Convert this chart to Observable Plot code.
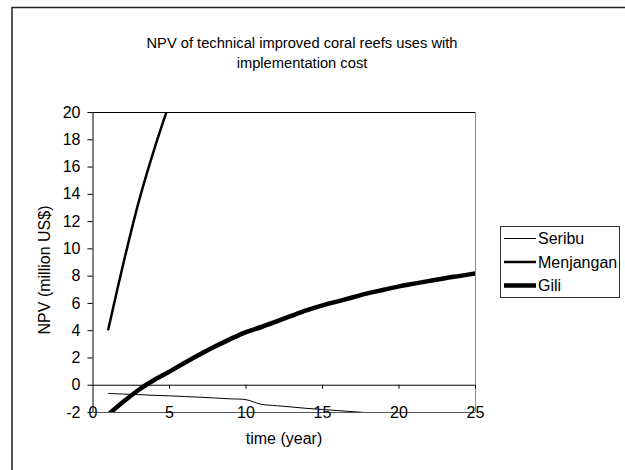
<!DOCTYPE html>
<html>
<head>
<meta charset="utf-8">
<script src="https://cdn.jsdelivr.net/npm/d3@7"></script>
<script src="https://cdn.jsdelivr.net/npm/@observablehq/plot@0.6"></script>
<style>
  html, body { margin: 0; padding: 0; background: #fff; }
  #chart { width: 625px; height: 470px; }
</style>
</head>
<body>
<div id="chart"></div>
<script>
const years = d3.range(1, 26);
const seribu = [-0.6, -0.65, -0.69, -0.74, -0.78, -0.83, -0.88, -0.94, -1.0, -1.06,
                -1.4, -1.5, -1.6, -1.7, -1.78, -1.86, -1.94, -2.02, -2.1, -2.18,
                -2.26, -2.33, -2.4, -2.47, -2.54];
const menjanganYears = [1, 2, 3, 4, 5];
const menjangan = [4.1, 9.0, 13.5, 17.3, 20.7];
const gili = [-2.15, -1.2, -0.33, 0.38, 1.0, 1.65, 2.27, 2.85, 3.4, 3.9,
              4.27, 4.68, 5.1, 5.5, 5.85, 6.15, 6.45, 6.75, 7.0, 7.25,
              7.45, 7.65, 7.85, 8.02, 8.2];
const seriesNames = ["Seribu", "Menjangan", "Gili"];
const seriesWidths = [1, 2.5, 4.5];
const xTicks = [0, 5, 10, 15, 20, 25];
const yTicks = d3.range(-2, 21, 2);
const title = ["NPV of technical improved coral reefs uses with", "implementation cost"];
const xLabel = "time (year)";
const yLabel = "NPV (million US$)";

const seribuData = years.map((t, i) => ({t, v: seribu[i]}));
const giliData = years.map((t, i) => ({t, v: gili[i]}));
const menjData = menjanganYears.map((t, i) => ({t, v: menjangan[i]}));

const font = "'Liberation Sans', Arial, sans-serif";

const chart = Plot.plot({
  width: 625,
  height: 470,
  marginLeft: 92.5,
  marginRight: 150,
  marginTop: 112,
  marginBottom: 58,
  style: {fontFamily: font, fontSize: "16px", background: "#fff", color: "#000", overflow: "visible"},
  x: {domain: [0, 25]},
  y: {domain: [-2, 20]},
  marks: [
    Plot.ruleY([-2], {stroke: "#555", strokeWidth: 1}),
    Plot.ruleY([20], {stroke: "#000", strokeWidth: 1}),
    Plot.ruleX([25], {stroke: "#888", strokeWidth: 1}),
    Plot.ruleY([0], {stroke: "#000", strokeWidth: 1}),
    Plot.ruleX([0], {stroke: "#000", strokeWidth: 1}),
    Plot.ruleX(xTicks.slice(1), {x: d => d, y1: 0, y2: 0, insetBottom: -4, stroke: "#000"}),
    Plot.axisY({ticks: yTicks, tickSize: 5, tickPadding: 7.5, label: null, fontSize: 16, tickFormat: d => d}),
    Plot.axisX({ticks: xTicks, tickSize: 0, tickPadding: 0, dy: -6, label: null, fontSize: 16, tickFormat: d => d}),
    Plot.line(seribuData, {x: "t", y: "v", stroke: "#000", strokeWidth: seriesWidths[0], curve: "catmull-rom", clip: true}),
    Plot.line(menjData, {x: "t", y: "v", stroke: "#000", strokeWidth: seriesWidths[1], curve: "catmull-rom", clip: true}),
    Plot.line(giliData, {x: "t", y: "v", stroke: "#000", strokeWidth: seriesWidths[2], curve: "catmull-rom", clip: true})
  ]
});

document.getElementById("chart").appendChild(chart);

const svg = d3.select(chart);
// outer chart border (left + top)
svg.append("path")
  .attr("d", "M12,470 L12,7.5 L625,7.5")
  .attr("fill", "none").attr("stroke", "#222").attr("stroke-width", 1.5);

// title
svg.append("g").selectAll("text").data(title).join("text")
  .attr("x", 302).attr("y", (d, i) => 47.5 + i * 20)
  .attr("text-anchor", "middle")
  .attr("font-family", font).attr("font-size", 14.7).attr("fill", "#000")
  .text(d => d);

// axis labels
svg.append("text")
  .attr("x", 284).attr("y", 444)
  .attr("text-anchor", "middle")
  .attr("font-family", font).attr("font-size", 16).attr("fill", "#000")
  .text(xLabel);
svg.append("text")
  .attr("transform", "translate(50,270) rotate(-90)")
  .attr("text-anchor", "middle")
  .attr("font-family", font).attr("font-size", 16).attr("fill", "#000")
  .text(yLabel);

// legend
const lg = svg.append("g");
lg.append("rect")
  .attr("x", 500.5).attr("y", 226.5).attr("width", 119).attr("height", 71)
  .attr("fill", "#fff").attr("stroke", "#333").attr("stroke-width", 1);
const entries = lg.selectAll("g.e").data(seriesNames).join("g")
  .attr("transform", (d, i) => `translate(0,${238.5 + i * 23.5})`);
entries.append("line")
  .attr("x1", 504).attr("x2", 536).attr("y1", 0).attr("y2", 0)
  .attr("stroke", "#000").attr("stroke-width", (d, i) => seriesWidths[i]);
entries.append("text")
  .attr("x", 538).attr("y", 5.5)
  .attr("text-anchor", "start")
  .attr("font-family", font).attr("font-size", 16).attr("fill", "#000")
  .text(d => d);
</script>
</body>
</html>
